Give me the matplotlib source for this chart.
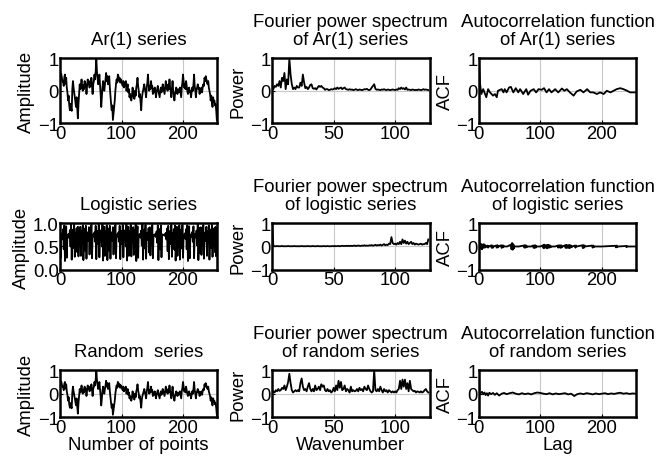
import matplotlib.pyplot as plt
import numpy as np

plt.rcParams['font.family'] = ['Liberation Sans', 'DejaVu Sans']
plt.rcParams['font.size'] = 13.3
plt.rcParams['axes.titlesize'] = 13.3

# AR(1) time series, 256 samples
ar1_series = [
    0.60, 0.45, 0.52, 0.40, 0.28, 0.30, 0.15, 0.42, 0.50, 0.22, 0.40, 0.10, -0.05, -0.30, -0.15, -0.45,
    -0.60, -0.40, -0.55, -0.62, 0.05, 0.30, 0.10, -0.05, -0.20, -0.35, -0.50, -0.20, -0.55, -0.85, -0.40, -0.10,
    0.20, 0.05, 0.15, 0.35, 0.10, 0.00, 0.18, 0.05, 0.30, 0.12, 0.20, -0.10, 0.15, 0.35, 0.20, 0.30,
    0.10, 0.25, 0.15, 0.40, 0.15, -0.10, 0.20, 0.30, 0.50, 0.35, 0.60, 1.00, 0.60, 0.40, 0.20, 0.30,
    0.50, 0.20, -0.10, -0.50, -0.20, 0.10, 0.30, 0.15, 0.00, 0.20, 0.35, 0.55, 0.30, 0.45, 0.20, 0.35,
    0.45, 0.10, -0.15, -0.40, -0.60, -0.45, -0.90, -0.70, -0.50, -0.30, 0.00, 0.20, 0.35, 0.25, 0.50, 0.45,
    0.30, 0.40, 0.25, 0.35, 0.30, 0.20, 0.15, 0.30, 0.10, 0.25, 0.15, 0.30, 0.00, 0.10, 0.20, -0.05,
    0.05, -0.20, -0.10, -0.25, -0.30, -0.15, 0.10, -0.05, -0.20, -0.25, 0.00, -0.15, 0.10, 0.20, 0.40, 0.15,
    0.00, -0.20, -0.10, -0.35, -0.60, -0.25, -0.10, 0.00, 0.10, 0.20, 0.05, -0.05, -0.20, 0.10, 0.25, 0.50,
    0.20, 0.00, 0.15, 0.05, 0.30, 0.10, 0.15, -0.10, 0.05, -0.05, 0.10, 0.00, -0.20, -0.05, 0.05, 0.15,
    0.00, -0.10, -0.20, 0.00, 0.10, -0.05, 0.05, 0.20, 0.10, 0.00, -0.10, 0.10, 0.30, 0.15, 0.05, 0.00,
    0.20, 0.05, 0.35, 0.10, 0.00, -0.20, 0.05, 0.30, 0.00, -0.15, -0.30, -0.10, 0.00, 0.10, -0.05, -0.10,
    0.05, -0.05, 0.00, 0.10, -0.05, -0.20, 0.10, 0.25, 0.50, 0.30, 0.10, 0.20, 0.05, 0.30, 0.15, 0.00,
    -0.10, 0.05, 0.10, -0.05, 0.00, -0.20, -0.05, 0.10, 0.00, 0.20, 0.50, 0.15, 0.00, -0.20, 0.05, 0.10,
    0.20, 0.05, 0.10, -0.10, 0.05, 0.00, 0.10, -0.05, 0.10, 0.20, 0.15, 0.40, 0.30, 0.45, 0.35, 0.25,
    0.20, 0.30, 0.10, 0.00, -0.10, -0.30, -0.15, -0.35, -0.50, -0.20, -0.35, -0.30, -0.45, -0.40, -0.60, -0.90,
]

# logistic map series, 256 samples
logistic_series = [
    0.93, 0.25, 0.72, 0.78, 0.66, 0.87, 0.44, 0.95, 0.19, 0.60, 0.93, 0.26, 0.75, 0.73, 0.77, 0.68,
    0.85, 0.50, 0.97, 0.22, 0.67, 0.86, 0.47, 0.96, 0.28, 0.79, 0.64, 0.89, 0.38, 0.92, 0.29, 0.80,
    0.62, 0.92, 0.30, 0.82, 0.57, 0.95, 0.21, 0.65, 0.88, 0.41, 0.94, 0.24, 0.71, 0.80, 0.62, 0.91,
    0.33, 0.86, 0.47, 0.96, 0.25, 0.73, 0.76, 0.71, 0.80, 0.60, 0.94, 0.23, 0.69, 0.83, 0.55, 0.96,
    0.27, 0.77, 0.68, 0.85, 0.50, 0.97, 0.20, 0.62, 0.92, 0.30, 0.82, 0.57, 0.95, 0.21, 0.65, 0.88,
    0.41, 0.94, 0.24, 0.71, 0.80, 0.62, 0.91, 0.33, 0.86, 0.47, 0.96, 0.25, 0.73, 0.76, 0.71, 0.80,
    0.60, 0.94, 0.23, 0.69, 0.83, 0.55, 0.96, 0.27, 0.77, 0.68, 0.85, 0.50, 0.97, 0.20, 0.62, 0.92,
    0.30, 0.83, 0.55, 0.96, 0.29, 0.80, 0.63, 0.91, 0.32, 0.85, 0.49, 0.97, 0.19, 0.60, 0.93, 0.26,
    0.75, 0.73, 0.77, 0.69, 0.84, 0.52, 0.97, 0.22, 0.67, 0.86, 0.46, 0.96, 0.24, 0.71, 0.79, 0.64,
    0.89, 0.37, 0.91, 0.31, 0.84, 0.53, 0.96, 0.25, 0.74, 0.75, 0.73, 0.77, 0.70, 0.82, 0.58, 0.95,
    0.21, 0.66, 0.87, 0.44, 0.95, 0.27, 0.76, 0.74, 0.75, 0.74, 0.76, 0.72, 0.79, 0.65, 0.88, 0.40,
    0.94, 0.23, 0.69, 0.83, 0.55, 0.96, 0.28, 0.78, 0.66, 0.87, 0.43, 0.95, 0.20, 0.62, 0.92, 0.30,
    0.82, 0.56, 0.95, 0.22, 0.67, 0.86, 0.46, 0.96, 0.26, 0.75, 0.72, 0.78, 0.66, 0.87, 0.44, 0.95,
    0.19, 0.60, 0.93, 0.25, 0.73, 0.76, 0.71, 0.81, 0.60, 0.93, 0.25, 0.73, 0.77, 0.69, 0.84, 0.52,
    0.97, 0.21, 0.64, 0.90, 0.36, 0.91, 0.32, 0.84, 0.52, 0.96, 0.24, 0.71, 0.80, 0.62, 0.92, 0.30,
    0.82, 0.57, 0.95, 0.22, 0.67, 0.86, 0.47, 0.96, 0.28, 0.79, 0.64, 0.89, 0.38, 0.92, 0.29, 0.80,
]

# the random trace uses the same samples as the AR(1) one
random_series = list(ar1_series)

# normalised power spectra, wavenumbers 0..127
ar1_power = [
    0.10, 0.05, 0.15, 0.12, 0.20, 0.15, 0.30, 0.10, 0.40, 0.30, 0.55, 0.05, 0.35, 0.20, 1.00, 0.50,
    0.20, 0.05, 0.10, 0.05, 0.15, 0.10, 0.10, 0.25, 0.15, 0.50, 0.25, 0.08, 0.12, 0.05, 0.10, 0.18,
    0.20, 0.08, 0.06, 0.08, 0.04, 0.10, 0.15, 0.12, 0.15, 0.10, 0.08, 0.03, 0.05, 0.05, 0.02, 0.03,
    0.05, 0.04, 0.05, 0.08, 0.05, 0.10, 0.06, 0.08, 0.10, 0.05, 0.08, 0.10, 0.05, 0.04, 0.03, 0.05,
    0.03, 0.04, 0.02, 0.03, 0.05, 0.03, 0.02, 0.04, 0.03, 0.02, 0.03, 0.05, 0.04, 0.06, 0.03, 0.02,
    0.04, 0.10, 0.15, 0.20, 0.06, 0.03, 0.04, 0.03, 0.02, 0.04, 0.03, 0.05, 0.03, 0.02, 0.04, 0.03,
    0.02, 0.03, 0.04, 0.03, 0.02, 0.04, 0.03, 0.08, 0.05, 0.10, 0.06, 0.08, 0.04, 0.10, 0.03, 0.04,
    0.03, 0.02, 0.04, 0.03, 0.02, 0.03, 0.02, 0.04, 0.03, 0.02, 0.03, 0.05, 0.03, 0.04, 0.03, 0.02,
]

logistic_power = [
    1.00, 0.02, 0.01, 0.01, 0.02, 0.01, 0.01, 0.01, 0.02, 0.01, 0.01, 0.01, 0.01, 0.02, 0.01, 0.01,
    0.01, 0.01, 0.02, 0.01, 0.01, 0.01, 0.01, 0.01, 0.02, 0.01, 0.01, 0.01, 0.01, 0.02, 0.01, 0.01,
    0.01, 0.02, 0.01, 0.01, 0.01, 0.02, 0.01, 0.01, 0.01, 0.01, 0.02, 0.01, 0.01, 0.02, 0.01, 0.01,
    0.01, 0.02, 0.01, 0.02, 0.01, 0.02, 0.02, 0.01, 0.02, 0.03, 0.02, 0.02, 0.03, 0.02, 0.03, 0.02,
    0.03, 0.02, 0.03, 0.04, 0.02, 0.03, 0.04, 0.03, 0.02, 0.04, 0.03, 0.05, 0.03, 0.04, 0.03, 0.05,
    0.04, 0.06, 0.03, 0.05, 0.07, 0.04, 0.06, 0.05, 0.08, 0.04, 0.07, 0.10, 0.05, 0.08, 0.06, 0.12,
    0.10, 0.40, 0.15, 0.10, 0.12, 0.08, 0.15, 0.10, 0.20, 0.10, 0.30, 0.15, 0.25, 0.12, 0.20, 0.10,
    0.15, 0.20, 0.10, 0.15, 0.08, 0.12, 0.10, 0.08, 0.10, 0.12, 0.08, 0.10, 0.10, 0.15, 0.10, 0.30,
]

random_power = [
    0.05, 0.10, 0.05, 0.15, 0.10, 0.20, 0.12, 0.15, 0.25, 0.20, 0.35, 0.15, 0.30, 0.50, 0.85, 0.45,
    0.15, 0.05, 0.10, 0.15, 0.10, 0.15, 0.10, 0.45, 0.65, 0.30, 0.15, 0.20, 0.10, 0.30, 0.45, 0.20,
    0.10, 0.20, 0.10, 0.35, 0.15, 0.20, 0.30, 0.15, 0.40, 0.30, 0.35, 0.15, 0.10, 0.20, 0.10, 0.15,
    0.05, 0.10, 0.25, 0.10, 0.35, 0.15, 0.55, 0.25, 0.50, 0.15, 0.20, 0.35, 0.10, 0.20, 0.15, 0.05,
    0.30, 0.10, 0.15, 0.10, 0.12, 0.20, 0.10, 0.25, 0.15, 0.20, 0.10, 0.30, 0.20, 0.15, 0.35, 0.20,
    0.10, 0.05, 0.10, 1.00, 0.15, 0.10, 0.20, 0.10, 0.30, 0.15, 0.05, 0.20, 0.10, 0.15, 0.05, 0.15,
    0.10, 0.05, 0.10, 0.05, 0.10, 0.05, 0.15, 0.20, 0.55, 0.20, 0.60, 0.30, 0.60, 0.20, 0.45, 0.10,
    0.55, 0.20, 0.15, 0.10, 0.12, 0.05, 0.10, 0.08, 0.05, 0.10, 0.05, 0.08, 0.15, 0.20, 0.10, 0.05,
]

# autocorrelation functions as (lag, value) pairs
ar1_acf = [
    (0, 1.0), (1, 0.55), (2, 0.2), (4, -0.1), (7, 0.05), (10, -0.1), (12, -0.2), (15, 0.05),
    (18, -0.05), (23, -0.15), (26, -0.1), (29, -0.2), (31, 0.0), (37, 0.05), (40, -0.05),
    (42, 0.05), (45, -0.05), (49, 0.1), (52, 0.12), (56, -0.05), (60, 0.08), (64, -0.05),
    (67, 0.05), (72, -0.1), (77, 0.05), (80, -0.12), (84, 0.0), (89, 0.05), (93, -0.05),
    (97, 0.05), (102, 0.03), (106, 0.08), (110, -0.05), (114, 0.05), (118, -0.05), (124, 0.05),
    (129, -0.05), (135, 0.07), (139, 0.0), (143, 0.05), (148, -0.05), (154, -0.15), (159, -0.02),
    (165, 0.03), (170, -0.05), (176, 0.05), (181, -0.05), (186, -0.05), (192, -0.1), (197, -0.05),
    (203, -0.1), (208, 0.0), (214, -0.05), (219, 0.0), (224, 0.05), (230, 0.08), (235, 0.05),
    (241, 0.0), (246, -0.05), (252, -0.05), (255, -0.05),
]

logistic_acf = [
    (0, 1.0), (1, -0.1), (2, 0.12), (3, -0.08), (4, 0.1), (5, -0.12), (6, 0.08), (7, -0.06),
    (8, 0.1), (9, -0.05), (10, 0.06), (11, -0.04), (12, 0.0),
    (14, 0.04), (15, -0.05), (16, 0.03), (18, 0.0),
    (20, 0.05), (21, -0.06), (22, 0.04), (23, -0.05), (24, 0.0),
    (28, 0.04), (29, -0.05), (30, 0.06), (31, -0.04), (32, 0.0),
    (36, 0.05), (37, -0.06), (38, 0.05), (39, -0.04), (40, 0.04), (41, 0.0), (46, 0.0),
    (52, 0.08), (53, -0.12), (54, 0.15), (55, -0.14), (56, 0.1), (57, -0.08), (58, 0.0), (65, 0.0),
    (73, 0.04), (74, -0.05), (75, 0.06), (76, -0.05), (77, 0.04), (78, -0.03), (79, 0.0), (85, 0.0),
    (88, 0.04), (89, -0.06), (90, 0.05), (91, -0.06), (92, 0.05), (93, -0.04), (94, 0.0), (100, 0.0),
    (104, 0.05), (105, -0.07), (106, 0.08), (107, -0.06), (108, 0.05), (109, -0.04), (110, 0.06),
    (111, -0.08), (112, 0.07), (113, -0.05), (114, 0.06), (115, -0.05), (116, 0.04), (117, -0.03),
    (118, 0.0), (124, 0.0),
    (128, 0.04), (129, -0.05), (130, 0.05), (131, -0.04), (132, 0.05), (133, -0.06), (134, 0.05),
    (135, -0.04), (136, 0.0),
    (140, 0.05), (141, -0.06), (142, 0.07), (143, -0.06), (144, 0.05), (145, -0.05), (146, 0.06),
    (147, -0.07), (148, 0.06), (149, -0.05), (150, 0.04), (151, -0.03), (152, 0.0),
    (156, 0.04), (157, -0.05), (158, 0.04), (159, 0.0),
    (168, 0.05), (169, -0.07), (170, 0.06), (171, -0.05), (172, 0.04), (173, 0.0),
    (184, 0.04), (185, -0.05), (186, 0.04), (187, -0.03), (188, 0.0), (200, 0.0),
    (222, 0.03), (223, -0.04), (224, 0.04), (225, -0.03), (226, 0.0),
    (239, 0.02), (240, -0.03), (241, 0.02), (242, 0.0), (255, 0.0),
]

random_acf = [
    (0, 1.0), (1, 0.05), (3, 0.03), (5, 0.08), (7, -0.03), (9, 0.05), (11, -0.06), (13, 0.02),
    (15, -0.08), (17, 0.04), (20, -0.02), (23, 0.03), (26, -0.05), (29, 0.02), (33, -0.08),
    (37, 0.0), (41, 0.03), (45, -0.02), (50, 0.02), (55, 0.05), (60, 0.0), (65, -0.03),
    (70, 0.02), (75, -0.02), (80, 0.01), (85, -0.03), (90, 0.02), (95, 0.05), (100, 0.03),
    (105, 0.0), (110, -0.02), (115, 0.02), (120, -0.03), (125, 0.01), (130, -0.02), (135, 0.0),
    (140, 0.02), (145, -0.03), (150, 0.0), (155, -0.1), (160, -0.02), (165, 0.01), (170, -0.02),
    (175, 0.02), (180, 0.0), (185, -0.03), (190, 0.01), (195, -0.02), (200, 0.0), (205, 0.02),
    (210, -0.02), (215, 0.01), (220, -0.01), (225, 0.02), (230, 0.04), (235, 0.0), (240, 0.02),
    (245, -0.01), (250, 0.01), (255, 0.0),
]

series_names = ['Ar(1)', 'logistic', 'random']
series_titles = ['Ar(1) series', 'Logistic series', 'Random  series']

fig = plt.figure(figsize=(6.67, 4.6), dpi=100)

col_left = [0.090, 0.408, 0.718]
col_width = 0.236
row_bottom = [0.730, 0.411, 0.091]
row_height = [0.141, 0.102, 0.102]
LW = 1.3


def style_axes(ax):
    for s in ax.spines.values():
        s.set_linewidth(1.8)
    ax.tick_params(direction='in', length=2, width=0.8, pad=1)
    ax.grid(True, color='#c8c8c8', linewidth=0.8)
    ax.set_axisbelow(True)


rows = [
    (ar1_series, ar1_power, ar1_acf),
    (logistic_series, logistic_power, logistic_acf),
    (random_series, random_power, random_acf),
]

for r, (series, power, acf) in enumerate(rows):
    # time series
    ax = fig.add_axes([col_left[0], row_bottom[r], col_width, row_height[r]])
    ax.plot(np.arange(len(series)), series, color='black', linewidth=LW)
    ax.set_xlim(0, 256)
    if r == 1:
        ax.set_ylim(0, 1)
        ax.set_yticks([0, 0.5, 1.0])
        ax.set_yticklabels(['0.0', '0.5', '1.0'])
    else:
        ax.set_ylim(-1, 1)
        ax.set_yticks([-1, 0, 1])
        ax.set_yticklabels(['\u22121', '0', '1'])
    ax.set_xticks([0, 100, 200])
    ax.set_ylabel('Amplitude', labelpad=2)
    ax.set_title(series_titles[r], pad=10)
    style_axes(ax)
    if r == 2:
        ax.set_xlabel('Number of points', labelpad=0)

    # power spectrum
    ax = fig.add_axes([col_left[1], row_bottom[r], col_width, row_height[r]])
    ax.plot(np.arange(len(power)), power, color='black', linewidth=LW)
    ax.set_xlim(0, 128)
    ax.set_ylim(-1, 1)
    ax.set_xticks([0, 50, 100])
    ax.set_yticks([-1, 0, 1])
    ax.set_yticklabels(['\u22121', '0', '1'])
    ax.set_ylabel('Power', labelpad=2)
    ax.set_title('Fourier power spectrum\nof %s series' % series_names[r],
                 pad=10, linespacing=1.1)
    style_axes(ax)
    if r == 2:
        ax.set_xlabel('Wavenumber', labelpad=0)

    # autocorrelation
    lags, vals = zip(*acf)
    ax = fig.add_axes([col_left[2], row_bottom[r], col_width, row_height[r]])
    ax.plot(lags, vals, color='black', linewidth=LW)
    ax.set_xlim(0, 256)
    ax.set_ylim(-1, 1)
    ax.set_xticks([0, 100, 200])
    ax.set_yticks([-1, 0, 1])
    ax.set_yticklabels(['\u22121', '0', '1'])
    ax.set_ylabel('ACF', labelpad=2)
    ax.set_title('Autocorrelation function\nof %s series' % series_names[r],
                 pad=10, linespacing=1.1)
    style_axes(ax)
    if r == 2:
        ax.set_xlabel('Lag', labelpad=0)

fig.savefig('out.png', dpi=100)
